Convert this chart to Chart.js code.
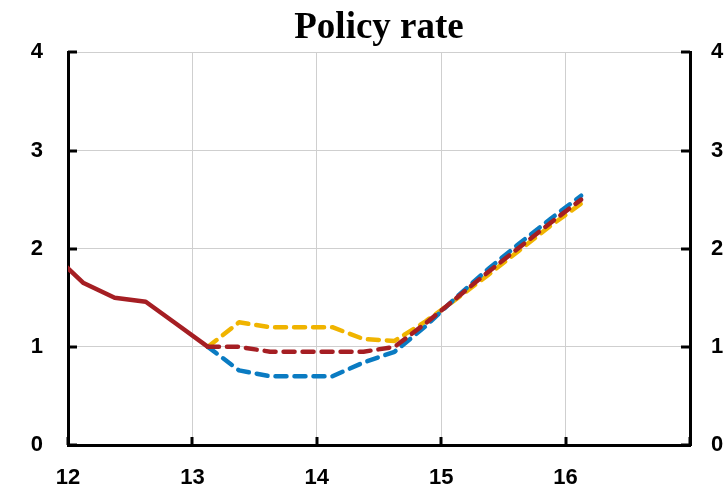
<!DOCTYPE html>
<html>
<head>
<meta charset="utf-8">
<script src="https://cdn.jsdelivr.net/npm/chart.js@4.4.1/dist/chart.umd.min.js"></script>
<style>
html,body{margin:0;padding:0;background:#ffffff;}
#wrap{width:726px;height:492px;}
</style>
</head>
<body>
<div id="wrap"><canvas id="c" width="726" height="492"></canvas></div>
<script>
// ---- data ----
const titleText = 'Policy rate';
const xTickLabels = ['12', '13', '14', '15', '16'];
const yTickLabels = ['0', '1', '2', '3', '4'];

// history (quarterly, plotted at quarter mid-points)
const historyX    = [11.875, 12.125, 12.375, 12.625, 12.875, 13.125];
const historyRate = [1.95,   1.65,   1.50,   1.46,   1.23,   1.00];

// forecast paths
const forecastX    = [13.125, 13.375, 13.625, 13.875, 14.125, 14.375, 14.625, 14.875, 15.125, 15.375, 15.625, 15.875, 16.125];
const highRate     = [1.00,   1.25,   1.20,   1.20,   1.20,   1.08,   1.06,   1.26,   1.49,   1.73,   1.98,   2.23,   2.46];
const baselineRate = [1.00,   1.00,   0.95,   0.95,   0.95,   0.95,   1.00,   1.24,   1.50,   1.76,   2.01,   2.26,   2.50];
const lowRate      = [1.00,   0.76,   0.70,   0.70,   0.70,   0.84,   0.95,   1.21,   1.51,   1.79,   2.05,   2.30,   2.54];

// ---- helpers ----
const pts = (xs, ys) => xs.map((x, i) => ({ x: x, y: ys[i] }));

const RED = '#A51E23';
const BLUE = '#0A7BC2';
const YELLOW = '#F0B400';
const GRID = '#cfcfcf';
const tickFont = { family: '"Liberation Sans", Arial, sans-serif', size: 22, weight: 'bold' };

const innerTicks = {
  id: 'innerTicks',
  afterDatasetsDraw(chart) {
    const ctx = chart.ctx;
    const a = chart.chartArea;
    ctx.save();
    ctx.strokeStyle = '#000';
    ctx.lineWidth = 3;
    ctx.lineCap = 'butt';
    const xs = chart.scales.x;
    xs.ticks.forEach(t => {
      const px = Math.round(xs.getPixelForValue(t.value));
      ctx.beginPath(); ctx.moveTo(px, a.bottom); ctx.lineTo(px, a.bottom - 8); ctx.stroke();
    });
    const ys = chart.scales.y;
    ys.ticks.forEach(t => {
      const py = Math.round(ys.getPixelForValue(t.value));
      ctx.beginPath(); ctx.moveTo(a.left, py); ctx.lineTo(a.left + 9, py); ctx.stroke();
    });
    const y2 = chart.scales.y2;
    y2.ticks.forEach(t => {
      const py = Math.round(y2.getPixelForValue(t.value));
      ctx.beginPath(); ctx.moveTo(a.right, py); ctx.lineTo(a.right - 9, py); ctx.stroke();
    });
    ctx.restore();
  }
};

const dashed = (label, ys, color, order) => ({
  label: label,
  data: pts(forecastX, ys),
  borderColor: color,
  backgroundColor: color,
  borderWidth: 4.5,
  borderDash: [11, 8],
  borderCapStyle: 'round',
  borderJoinStyle: 'round',
  pointRadius: 0,
  tension: 0,
  fill: false,
  order: order
});

new Chart(document.getElementById('c'), {
  type: 'line',
  data: {
    datasets: [
      {
        label: 'History',
        data: pts(historyX, historyRate),
        borderColor: RED,
        backgroundColor: RED,
        borderWidth: 4.5,
        borderJoinStyle: 'round',
        pointRadius: 0,
        tension: 0,
        fill: false,
        order: 0
      },
      dashed('High', highRate, YELLOW, 3),
      dashed('Low', lowRate, BLUE, 2),
      dashed('Baseline', baselineRate, RED, 1)
    ]
  },
  options: {
    responsive: false,
    animation: false,
    devicePixelRatio: 1,
    layout: { padding: 0 },
    plugins: {
      legend: { display: false },
      tooltip: { enabled: false },
      title: {
        display: true,
        text: titleText,
        fullSize: false,
        color: '#000',
        font: { family: '"Liberation Serif", "Times New Roman", serif', size: 37, weight: 'bold', lineHeight: 1.2 },
        padding: { top: 6, bottom: 2 }
      }
    },
    scales: {
      x: {
        type: 'linear',
        min: 12,
        max: 17,
        grid: { color: GRID, lineWidth: 1, drawTicks: false },
        border: { display: true, color: '#000', width: 3 },
        ticks: {
          stepSize: 1,
          color: '#000',
          font: tickFont,
          padding: 20,
          maxRotation: 0,
          callback: (v) => { const i = Math.round(v) - 12; return xTickLabels[i] !== undefined ? xTickLabels[i] : ''; }
        },
        afterFit: (s) => { s.height = 47; }
      },
      y: {
        position: 'left',
        min: 0,
        max: 4,
        grid: { color: GRID, lineWidth: 1, drawTicks: false },
        border: { display: true, color: '#000', width: 3 },
        ticks: {
          stepSize: 1,
          color: '#000',
          font: tickFont,
          padding: 25,
          callback: (v) => yTickLabels[Math.round(v)]
        },
        afterFit: (s) => { s.width = 68; }
      },
      y2: {
        position: 'right',
        min: 0,
        max: 4,
        grid: { display: false, drawTicks: false },
        border: { display: true, color: '#000', width: 3 },
        ticks: {
          stepSize: 1,
          color: '#000',
          font: tickFont,
          padding: 21,
          callback: (v) => yTickLabels[Math.round(v)]
        },
        afterFit: (s) => { s.width = 36; }
      }
    }
  },
  plugins: [innerTicks]
});
</script>
</body>
</html>
